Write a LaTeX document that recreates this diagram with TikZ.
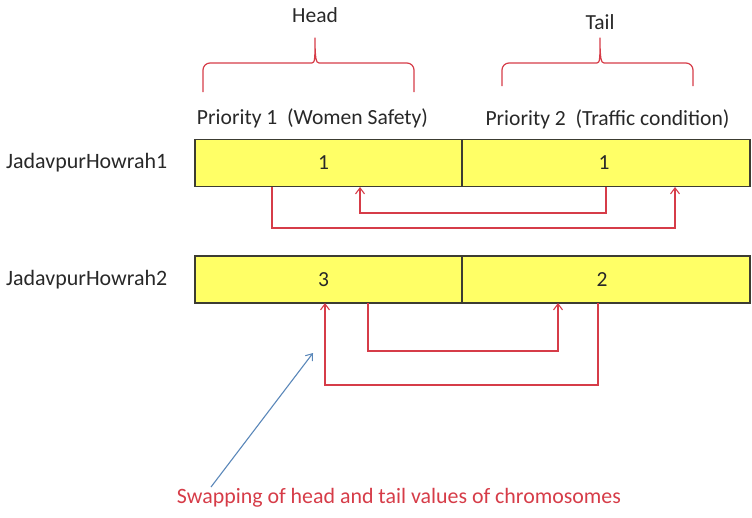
\documentclass[tikz,border=0pt]{standalone}
\usepackage{fontspec}
\usepackage{graphicx}
\setmainfont{Carlito}
\usetikzlibrary{arrows.meta}
\definecolor{braceRed}{RGB}{214,60,72}
\definecolor{cellYellow}{RGB}{255,255,102}
\definecolor{cellEdge}{RGB}{60,60,50}
\definecolor{pointerBlue}{RGB}{90,135,185}
\definecolor{txtGray}{RGB}{40,40,40}
\tikzset{
  cell/.style={draw=cellEdge, line width=1.2pt, fill=cellYellow, inner sep=0pt,
    minimum height=47pt, text=txtGray, font=\fontsize{21.5}{26}\selectfont},
  lbl/.style={inner sep=0pt, text=txtGray, font=\fontsize{21.5}{26}\selectfont},
  rowlbl/.style={lbl, font=\fontsize{20}{24}\selectfont},
  prilbl/.style={lbl, font=\fontsize{21.6}{26}\selectfont},
  swapline/.style={draw=braceRed, line width=1.2pt},
  swaparrow/.style={swapline, -{Straight Barb[length=6pt,width=9pt,line width=1.1pt]}},
  bracepath/.style={draw=braceRed, line width=1.2pt, line join=round},
}
\begin{document}
\begin{tikzpicture}[x=1pt,y=-1pt]
\useasboundingbox (0,0) rectangle (752,517);

% group headers
\node[lbl] (head) at (315,15) {Head};
\node[lbl] (tail) at (600,22) {Tail};

% braces
\draw[bracepath, rounded corners=7pt] (203,92) -- (203,63) -- (312,63);
\draw[bracepath] (312,63) .. controls (315,63) and (315,58) .. (315,38)
                          .. controls (315,58) and (316,63) .. (319,63);
\draw[bracepath, rounded corners=7pt] (319,63) -- (414,63) -- (414,92);

\draw[bracepath, rounded corners=7pt] (502,86) -- (502,63) -- (597,63);
\draw[bracepath] (597,63) .. controls (600,63) and (600,58) .. (600,38)
                          .. controls (600,58) and (601,63) .. (604,63);
\draw[bracepath, rounded corners=7pt] (604,63) -- (693,63) -- (693,86);

\node[prilbl] (p1) at (312.5,118) {Priority 1\ \ (Women Safety)};
\node[prilbl] (p2) at (607.5,119) {Priority 2\ \ (Traffic condition)};

% row labels, set to a fixed width
\node[rowlbl, anchor=west] (r1) at (6,163) {\resizebox{161pt}{!}{JadavpurHowrah1}};
\node[rowlbl, anchor=west] (r2) at (6,280) {\resizebox{161pt}{!}{JadavpurHowrah2}};

% chromosome cells
\node[cell, minimum width=267pt] (c11) at (328.5,163) {\hspace*{-10pt}1};
\node[cell, minimum width=288pt] (c12) at (606,163) {\hspace*{-4pt}1};
\node[cell, minimum width=267pt] (c21) at (328.5,279.5) {\hspace*{-10pt}3};
\node[cell, minimum width=288pt] (c22) at (606,279.5) {\hspace*{-8pt}2};

% connector end points on the cell edges
\coordinate (a1s) at (272,187);
\coordinate (a1e) at (675,187);
\coordinate (b1s) at (606,187);
\coordinate (b1e) at (360,187);
\coordinate (a2s) at (598,303);
\coordinate (a2e) at (325,303);
\coordinate (b2s) at (368,303);
\coordinate (b2e) at (558,303);

% swaps, first row
\draw[swaparrow] (a1s) -- ++(0,41) -| (a1e);
\draw[swaparrow] (b1s) -- ++(0,26) -| (b1e);

% swaps, second row
\draw[swaparrow] (a2s) -- ++(0,82) -| (a2e);
\draw[swaparrow] (b2s) -- ++(0,48) -| (b2e);

% caption with pointer
\node[lbl, text=braceRed, font=\fontsize{21.9}{26}\selectfont] (cap) at (399,498) {Swapping of head and tail values of chromosomes};
\coordinate (ptr0) at (211,487);
\coordinate (ptr1) at (313,353);
\draw[draw=pointerBlue, line width=1.1pt, -{Straight Barb[length=6pt,width=9pt,line width=1pt]}] (ptr0) -- (ptr1);
\end{tikzpicture}
\end{document}
